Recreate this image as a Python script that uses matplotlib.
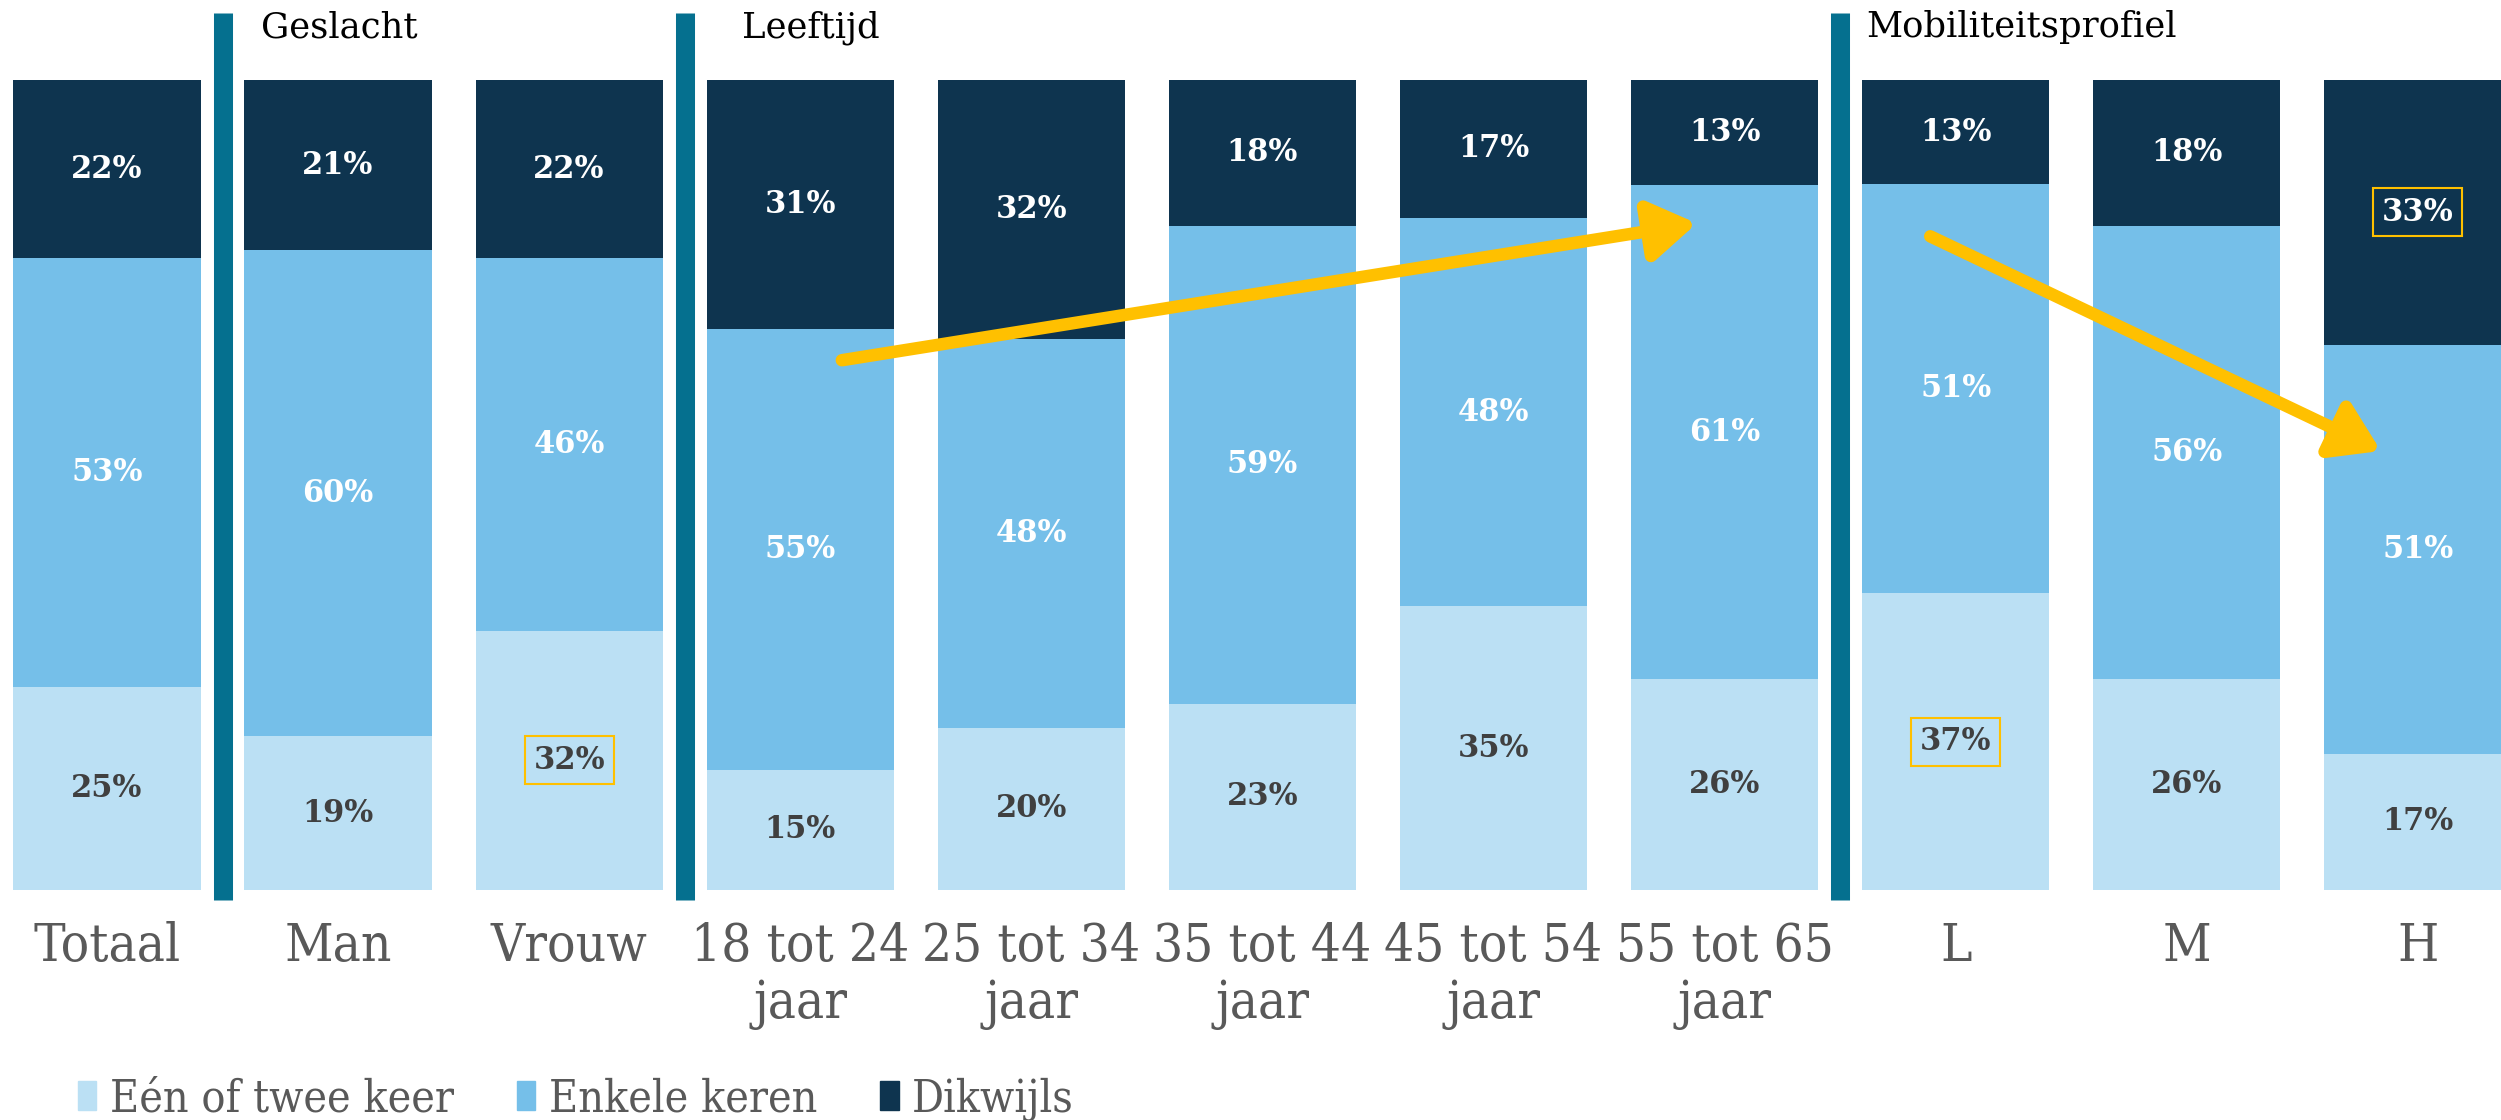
import numpy as np
import matplotlib
matplotlib.use("Agg")
import matplotlib.pyplot as plt
from matplotlib.patches import Patch

categories = ["Totaal", "Man", "Vrouw", "18 tot 24\njaar", "25 tot 34\njaar",
              "35 tot 44\njaar", "45 tot 54\njaar", "55 tot 65\njaar", "L", "M", "H"]
een_of_twee = [25, 19, 32, 15, 20, 23, 35, 26, 37, 26, 17]
enkele_keren = [53, 60, 46, 55, 48, 59, 48, 61, 51, 56, 51]
dikwijls = [22, 21, 22, 31, 32, 18, 17, 13, 13, 18, 33]
series_names = ["Eén of twee keer", "Enkele keren", "Dikwijls"]
groups = ["Geslacht", "Leeftijd", "Mobiliteitsprofiel"]

colors = ["#BBE0F4", "#75BFE9", "#0E344F"]
sep_color = "#05708F"
yellow = "#FFC000"
serif_c = dict(family="DejaVu Serif", stretch="condensed")

vals = np.array([een_of_twee, enkele_keren, dikwijls], dtype=float)
frac = vals / vals.sum(axis=0)
x = np.arange(len(categories))

fig = plt.figure(figsize=(25.01, 11.2), dpi=100)
ax = fig.add_axes([0, 0.2054, 1, 0.7232])

bottom = np.zeros(len(categories))
for i in range(3):
    ax.bar(x, frac[i], 0.81, bottom=bottom, color=colors[i], label=series_names[i])
    for j in range(len(categories)):
        c = "#404040" if i == 0 else "white"
        box = None
        if (i == 0 and j in (2, 8)) or (i == 2 and j == 10):
            box = dict(boxstyle="square,pad=0.28", fc="none", ec=yellow, lw=1.5)
        ax.text(x[j], bottom[j] + frac[i][j] / 2, f"{vals[i][j]:.0f}%", ha="center",
                va="center", color=c, fontsize=22, fontweight="bold",
                family="DejaVu Serif", bbox=box)
    bottom += frac[i]

# separators between groups + group titles
for sx, name, off in zip([0.5, 2.5, 7.5], groups, [0.165, 0.25, 0.115]):
    ax.plot([sx, sx], [-0.012, 1.083], color=sep_color, lw=13.7, clip_on=False,
            solid_capstyle="butt")
    ax.text(sx + off, 1.053, name, ha="left", va="baseline", fontsize=25.5,
            color="black", family="DejaVu Serif")

# trend arrows
for start, end in [((3.18, 0.654), (6.88, 0.823)), ((7.89, 0.807), (9.84, 0.542))]:
    ax.annotate("", xy=end, xytext=start,
                arrowprops=dict(arrowstyle="-|>,head_length=0.7,head_width=0.45",
                                color=yellow, lw=9, mutation_scale=40,
                                shrinkA=0, shrinkB=0))

ax.set_xlim(-0.463, 10.36)
ax.set_ylim(0, 1)
ax.set_xticks(x)
ax.set_xticklabels(categories, fontsize=38, color="#595959", linespacing=1.17, **serif_c)
ax.tick_params(axis="x", length=0, pad=22)
ax.set_yticks([])
for s in ax.spines.values():
    s.set_visible(False)

handles = [Patch(color=c) for c in colors]
fig.legend(handles, series_names, loc="center left", bbox_to_anchor=(0.015, 0.019),
           ncol=3, frameon=False, handlelength=0.42, handleheight=0.6,
           handletextpad=0.3, columnspacing=1.42,
           prop=dict(size=32, **serif_c), labelcolor="#595959")

fig.savefig("out.png", dpi=100)
